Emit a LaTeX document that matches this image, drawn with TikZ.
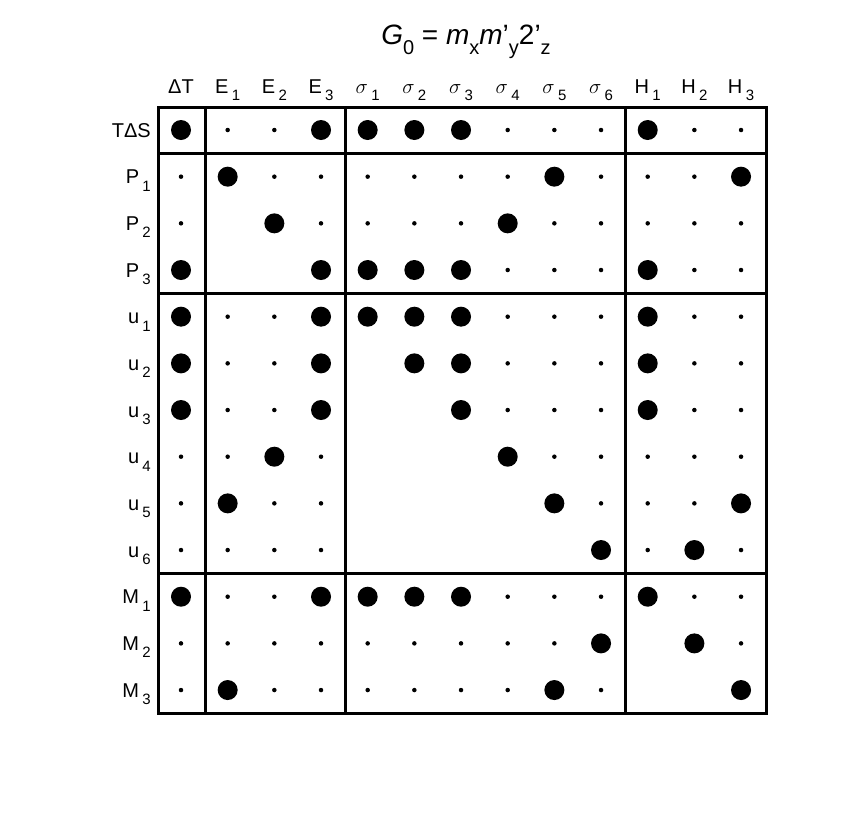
\documentclass[tikz,border=0pt]{standalone}
\usepackage{fontspec}
\setmainfont{Liberation Sans}
\newcommand{\sbs}[1]{\,\raisebox{-0.7ex}{\fontsize{15}{15}\selectfont #1}}
\newcommand{\tsb}[1]{\raisebox{-0.7ex}{\fontsize{20}{20}\selectfont #1}}
\begin{document}
\begin{tikzpicture}[x=1pt,y=-1pt,
  dotB/.style={circle,fill=black,inner sep=0pt,minimum size=20pt},
  dots/.style={circle,fill=black,inner sep=0pt,minimum size=4.5pt},
  dotn/.style={inner sep=0pt,minimum size=0pt},
  lbl/.style={font=\fontsize{20}{20}\selectfont,inner sep=0pt},
  grid/.style={line width=3pt}]
\useasboundingbox (0,0) rectangle (856,812);
\node[font=\fontsize{28}{28}\selectfont,inner sep=0pt] (title) at (466,42) {\textit{G}\tsb{0} = \textit{m}\tsb{x}\textit{m}'\tsb{y}2'\tsb{z}};
% columns
\foreach \t [count=\i] in {{\char"0394 T},{E\sbs{1}},{E\sbs{2}},{E\sbs{3}},{$\sigma$\sbs{1}},{$\sigma$\sbs{2}},{$\sigma$\sbs{3}},{$\sigma$\sbs{4}},{$\sigma$\sbs{5}},{$\sigma$\sbs{6}},{H\sbs{1}},{H\sbs{2}},{H\sbs{3}}}
  \node[lbl,anchor=base] (c\i) at ({181+46.67*(\i-1)},93) {\t};
% rows
\foreach \t [count=\j] in {{T\char"0394 S},{P\sbs{1}},{P\sbs{2}},{P\sbs{3}},{u\sbs{1}},{u\sbs{2}},{u\sbs{3}},{u\sbs{4}},{u\sbs{5}},{u\sbs{6}},{M\sbs{1}},{M\sbs{2}},{M\sbs{3}}}
  \node[lbl,anchor=base east] (r\j) at (151,{137+46.67*(\j-1)}) {\t};
% dots
\foreach \row [count=\j] in {
 {B,s,s,B,B,B,B,s,s,s,B,s,s},
 {s,B,s,s,s,s,s,s,B,s,s,s,B},
 {s,n,B,s,s,s,s,B,s,s,s,s,s},
 {B,n,n,B,B,B,B,s,s,s,B,s,s},
 {B,s,s,B,B,B,B,s,s,s,B,s,s},
 {B,s,s,B,n,B,B,s,s,s,B,s,s},
 {B,s,s,B,n,n,B,s,s,s,B,s,s},
 {s,s,B,s,n,n,n,B,s,s,s,s,s},
 {s,B,s,s,n,n,n,n,B,s,s,s,B},
 {s,s,s,s,n,n,n,n,n,B,s,B,s},
 {B,s,s,B,B,B,B,s,s,s,B,s,s},
 {s,s,s,s,s,s,s,s,s,B,n,B,s},
 {s,B,s,s,s,s,s,s,B,s,n,n,B}}
 \foreach \c [count=\i] in \row
   \node[dot\c] (d\j-\i) at ({181+46.67*(\i-1)},{130+46.67*(\j-1)}) {};
% grid
\draw[grid] (158,107) rectangle (766,713);
\foreach \x in {205,345,625} \draw[grid] (\x,107) -- (\x,713);
\foreach \y in {153,293,573} \draw[grid] (158,\y) -- (766,\y);
\end{tikzpicture}
\end{document}
